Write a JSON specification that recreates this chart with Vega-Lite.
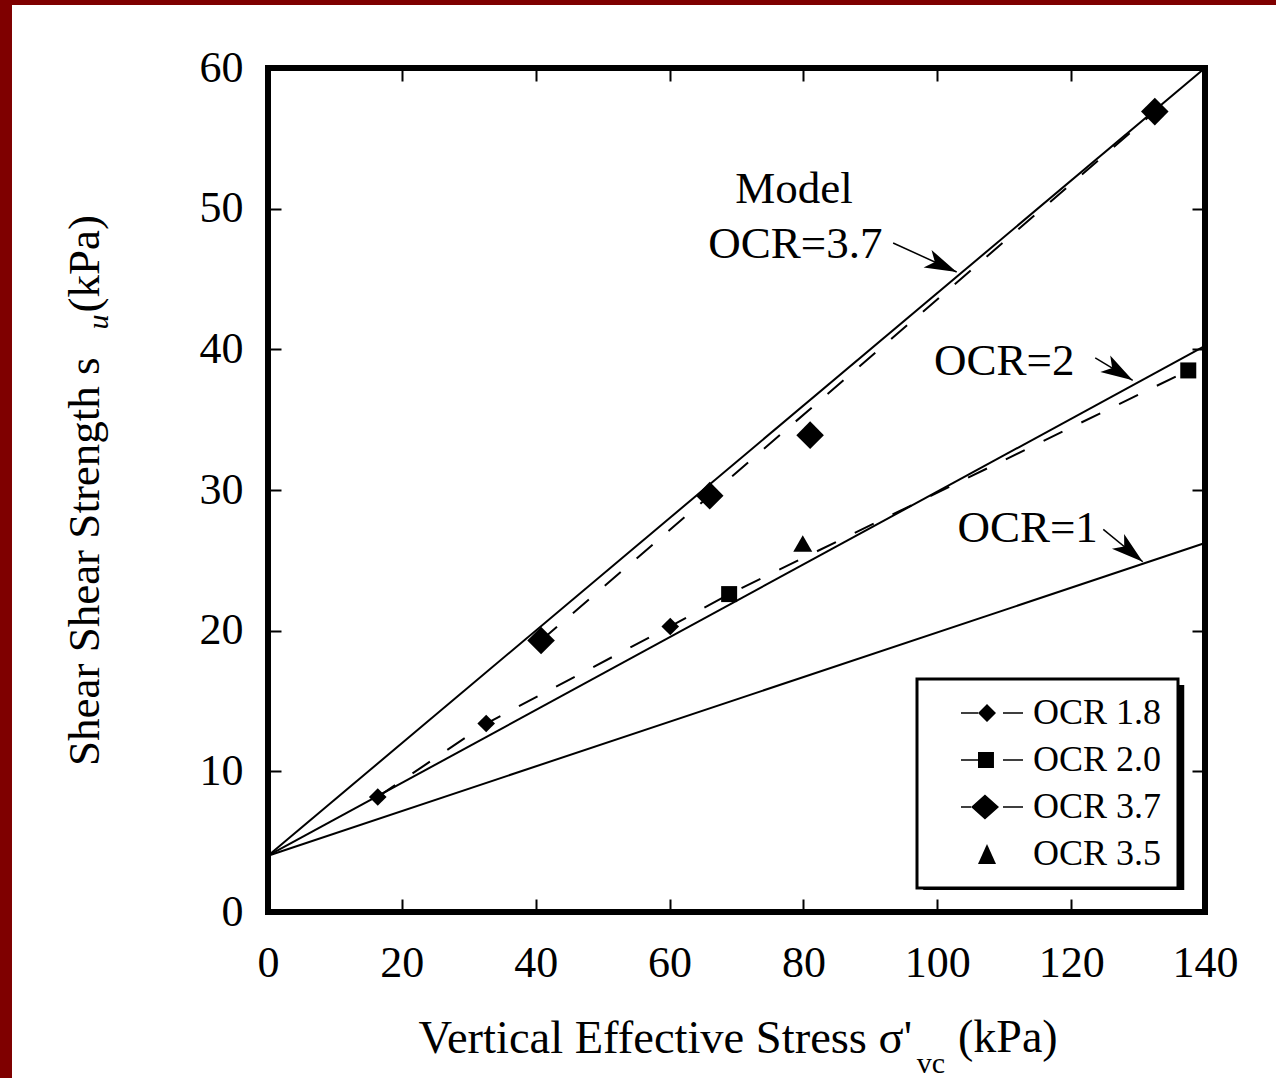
{
  "$schema": "https://vega.github.io/schema/vega-lite/v6.json",
  "width": 937,
  "height": 844,
  "autosize": {"type": "none"},
  "padding": {"left": 268, "top": 68, "right": 71, "bottom": 166},
  "background": "white",
  "config": {
    "view": {"stroke": "black", "strokeWidth": 6},
    "font": "Liberation Serif",
    "axis": {
      "grid": false, "domain": false, "tickColor": "black", "tickWidth": 2, "tickSize": -13,
      "labelColor": "black", "labelFont": "Liberation Serif", "labelFontSize": 44, "labelFlush": false, "labelOverlap": false,
      "titleFont": "Liberation Serif", "titleFontSize": 45, "titleFontWeight": "normal", "titleColor": "black", "zindex": 1
    },
    "legend": {"strokeWidth": 3}
  },
  "datasets": {
    "points": [
      {"series": "OCR 1.8", "x": 16.4, "y": 8.18},
      {"series": "OCR 1.8", "x": 32.6, "y": 13.4},
      {"series": "OCR 1.8", "x": 60.1, "y": 20.3},
      {"series": "OCR 2.0", "x": 68.9, "y": 22.6},
      {"series": "OCR 2.0", "x": 137.5, "y": 38.5},
      {"series": "OCR 3.7", "x": 40.8, "y": 19.3},
      {"series": "OCR 3.7", "x": 66.0, "y": 29.6},
      {"series": "OCR 3.7", "x": 81.0, "y": 33.9},
      {"series": "OCR 3.7", "x": 132.5, "y": 56.9},
      {"series": "OCR 3.5", "x": 79.9, "y": 26.2}
    ],
    "model": [
      {"ocr": "1", "x": 0, "y": 4},
      {"ocr": "1", "x": 140, "y": 26.23},
      {"ocr": "2", "x": 0, "y": 4},
      {"ocr": "2", "x": 140, "y": 40.24},
      {"ocr": "3.7", "x": 0, "y": 4},
      {"ocr": "3.7", "x": 140, "y": 60}
    ],
    "dashed": [
      {"grp": "lower", "x": 16.4, "y": 8.18},
      {"grp": "lower", "x": 32.6, "y": 13.4},
      {"grp": "lower", "x": 60.1, "y": 20.3},
      {"grp": "lower", "x": 68.9, "y": 22.6},
      {"grp": "lower", "x": 137.5, "y": 38.5},
      {"grp": "upper", "x": 40.8, "y": 19.3},
      {"grp": "upper", "x": 66.0, "y": 29.6},
      {"grp": "upper", "x": 132.5, "y": 56.9}
    ],
    "notes": [
      {"label": "Model", "x": 78.6, "y": 50.4},
      {"label": "OCR=3.7", "x": 78.8, "y": 46.49},
      {"label": "OCR=2", "x": 110.0, "y": 38.17},
      {"label": "OCR=1", "x": 113.5, "y": 26.3}
    ],
    "arrows": [
      {"id": "a37", "x": 93.4, "y": 47.56, "x2": 102.9, "y2": 45.5},
      {"id": "a2", "x": 123.6, "y": 39.4, "x2": 129.2, "y2": 37.8},
      {"id": "a1", "x": 124.8, "y": 27.2, "x2": 130.7, "y2": 24.9}
    ]
  },
  "layer": [
    {
      "data": {"values": [{}]},
      "mark": {"type": "rect", "color": "#7f0000"},
      "encoding": {
        "x": {"datum": -70, "type": "quantitative", "scale": {"domain": [0, 140], "nice": false}, "axis": null},
        "x2": {"datum": -38.25},
        "y": {"datum": -20, "type": "quantitative", "scale": {"domain": [0, 60], "nice": false}, "axis": null},
        "y2": {"datum": 70}
      }
    },
    {
      "data": {"values": [{}]},
      "mark": {"type": "rect", "color": "#7f0000"},
      "encoding": {
        "x": {"datum": -70, "type": "quantitative", "scale": {"domain": [0, 140], "nice": false}, "axis": null},
        "x2": {"datum": 170},
        "y": {"datum": 64.48, "type": "quantitative", "scale": {"domain": [0, 60], "nice": false}, "axis": null},
        "y2": {"datum": 70}
      }
    },
    {
      "data": {"values": [{}]},
      "mark": {"type": "rect", "color": "black"},
      "encoding": {
        "x": {"datum": 97.9, "type": "quantitative", "scale": {"domain": [0, 140], "nice": false}, "axis": null},
        "x2": {"datum": 136.9},
        "y": {"datum": 1.56, "type": "quantitative", "scale": {"domain": [0, 60], "nice": false}, "axis": null},
        "y2": {"datum": 16.14}
      }
    },
    {
      "data": {"name": "model"},
      "mark": {"type": "line", "color": "black", "strokeWidth": 2},
      "encoding": {
        "x": {"field": "x", "type": "quantitative", "scale": {"domain": [0, 140], "nice": false},
          "axis": {"orient": "bottom", "values": [0, 20, 40, 60, 80, 100, 120, 140], "labelPadding": 42,
            "title": "Vertical Effective Stress σ'", "titleFontSize": 46.5, "titleAnchor": "start", "titleAlign": "left", "titleBaseline": "alphabetic", "titleX": 150, "titleY": 140}},
        "y": {"field": "y", "type": "quantitative", "scale": {"domain": [0, 60], "nice": false},
          "axis": {"orient": "left", "values": [0, 10, 20, 30, 40, 50, 60], "labelPadding": 38,
            "title": "Shear Shear Strength s\u2002\u2002(kPa)", "titlePadding": 92}},
        "detail": {"field": "ocr", "type": "nominal"}
      }
    },
    {
      "data": {"name": "dashed"},
      "mark": {"type": "line", "color": "black", "strokeWidth": 2, "strokeDash": [21, 21]},
      "encoding": {
        "x": {"field": "x", "type": "quantitative", "scale": {"domain": [0, 140], "nice": false},
          "axis": {"orient": "top", "values": [0, 20, 40, 60, 80, 100, 120, 140], "labels": false, "title": null}},
        "y": {"field": "y", "type": "quantitative", "scale": {"domain": [0, 60], "nice": false},
          "axis": {"orient": "right", "values": [0, 10, 20, 30, 40, 50, 60], "labels": false, "title": null}},
        "detail": {"field": "grp", "type": "nominal"}
      }
    },
    {
      "data": {"name": "points"},
      "transform": [{"filter": "datum.series === 'OCR 1.8'"}],
      "mark": {"type": "point", "shape": "diamond", "size": 310, "filled": true, "color": "black", "opacity": 1},
      "encoding": {
        "x": {"field": "x", "type": "quantitative", "scale": {"domain": [0, 140], "nice": false}, "axis": null},
        "y": {"field": "y", "type": "quantitative", "scale": {"domain": [0, 60], "nice": false}, "axis": null}
      }
    },
    {
      "data": {"name": "points"},
      "transform": [{"filter": "datum.series === 'OCR 2.0'"}],
      "mark": {"type": "point", "shape": "square", "size": 256, "filled": true, "color": "black", "opacity": 1},
      "encoding": {
        "x": {"field": "x", "type": "quantitative", "scale": {"domain": [0, 140], "nice": false}, "axis": null},
        "y": {"field": "y", "type": "quantitative", "scale": {"domain": [0, 60], "nice": false}, "axis": null}
      }
    },
    {
      "data": {"name": "points"},
      "transform": [{"filter": "datum.series === 'OCR 3.7'"}],
      "mark": {"type": "point", "shape": "diamond", "size": 760, "filled": true, "color": "black", "opacity": 1},
      "encoding": {
        "x": {"field": "x", "type": "quantitative", "scale": {"domain": [0, 140], "nice": false}, "axis": null},
        "y": {"field": "y", "type": "quantitative", "scale": {"domain": [0, 60], "nice": false}, "axis": null}
      }
    },
    {
      "data": {"name": "points"},
      "transform": [{"filter": "datum.series === 'OCR 3.5'"}],
      "mark": {"type": "point", "shape": "triangle-up", "size": 360, "filled": true, "color": "black", "opacity": 1},
      "encoding": {
        "x": {"field": "x", "type": "quantitative", "scale": {"domain": [0, 140], "nice": false}, "axis": null},
        "y": {"field": "y", "type": "quantitative", "scale": {"domain": [0, 60], "nice": false}, "axis": null}
      }
    },
    {
      "data": {"name": "points"},
      "mark": {"type": "point", "filled": true, "color": "black", "opacity": 0},
      "encoding": {
        "x": {"field": "x", "type": "quantitative", "scale": {"domain": [0, 140], "nice": false}, "axis": null},
        "y": {"field": "y", "type": "quantitative", "scale": {"domain": [0, 60], "nice": false}, "axis": null},
        "shape": {
          "field": "series", "type": "nominal",
          "scale": {
            "domain": ["OCR 1.8", "OCR 2.0", "OCR 3.7", "OCR 3.5"],
            "range": [
              "M0.83,-0.07H2.25V0.07H0.83Z M3,-0.75L3.75,0L3,0.75L2.25,0Z M4.33,-0.07H6V0.07H4.33Z",
              "M0.83,-0.07H2.25V0.07H0.83Z M2.25,-0.67H3.58V0.67H2.25Z M4.33,-0.07H6V0.07H4.33Z",
              "M0.83,-0.07H1.67V0.07H0.83Z M2.83,-1.04L4,0L2.83,1.04L1.67,0Z M4.33,-0.07H6V0.07H4.33Z",
              "M3,-0.83L3.75,0.83L2.25,0.83Z"
            ]
          },
          "legend": {
            "orient": "none", "legendX": 649, "legendY": 611, "title": null,
            "padding": 16, "fillColor": "white", "strokeColor": "black",
            "symbolSize": 576, "symbolStrokeWidth": 0, "symbolFillColor": "black", "symbolStrokeColor": "black", "symbolOpacity": 1,
            "labelFont": "Liberation Serif", "labelFontSize": 36, "labelColor": "black", "labelOffset": 64, "labelLimit": 300,
            "rowPadding": 11,
            "encode": {
              "symbols": {"update": {"fill": {"value": "black"}, "opacity": {"value": 1}}}
            }
          }
        }
      }
    },
    {
      "data": {"name": "notes"},
      "mark": {"type": "text", "font": "Liberation Serif", "fontSize": 45, "align": "center", "baseline": "alphabetic", "color": "black"},
      "encoding": {
        "x": {"field": "x", "type": "quantitative", "scale": {"domain": [0, 140], "nice": false}, "axis": null},
        "y": {"field": "y", "type": "quantitative", "scale": {"domain": [0, 60], "nice": false}, "axis": null},
        "text": {"field": "label"}
      }
    },
    {
      "data": {"name": "arrows"},
      "mark": {"type": "rule", "color": "black", "strokeWidth": 1.5},
      "encoding": {
        "x": {"field": "x", "type": "quantitative", "scale": {"domain": [0, 140], "nice": false}, "axis": null},
        "y": {"field": "y", "type": "quantitative", "scale": {"domain": [0, 60], "nice": false}, "axis": null},
        "x2": {"field": "x2"},
        "y2": {"field": "y2"}
      }
    },
    {
      "data": {"name": "arrows"},
      "transform": [{"filter": "datum.id === 'a37'"}],
      "mark": {"type": "point", "shape": "M0,0L-1,-0.3L-0.75,0L-1,0.3Z", "size": 4096, "filled": true, "color": "black", "opacity": 1, "angle": 24.5},
      "encoding": {
        "x": {"field": "x2", "type": "quantitative", "scale": {"domain": [0, 140], "nice": false}, "axis": null},
        "y": {"field": "y2", "type": "quantitative", "scale": {"domain": [0, 60], "nice": false}, "axis": null}
      }
    },
    {
      "data": {"name": "arrows"},
      "transform": [{"filter": "datum.id === 'a2'"}],
      "mark": {"type": "point", "shape": "M0,0L-1,-0.3L-0.75,0L-1,0.3Z", "size": 4096, "filled": true, "color": "black", "opacity": 1, "angle": 31},
      "encoding": {
        "x": {"field": "x2", "type": "quantitative", "scale": {"domain": [0, 140], "nice": false}, "axis": null},
        "y": {"field": "y2", "type": "quantitative", "scale": {"domain": [0, 60], "nice": false}, "axis": null}
      }
    },
    {
      "data": {"name": "arrows"},
      "transform": [{"filter": "datum.id === 'a1'"}],
      "mark": {"type": "point", "shape": "M0,0L-1,-0.3L-0.75,0L-1,0.3Z", "size": 4096, "filled": true, "color": "black", "opacity": 1, "angle": 39.4},
      "encoding": {
        "x": {"field": "x2", "type": "quantitative", "scale": {"domain": [0, 140], "nice": false}, "axis": null},
        "y": {"field": "y2", "type": "quantitative", "scale": {"domain": [0, 60], "nice": false}, "axis": null}
      }
    },
    {
      "data": {"values": [{}]},
      "mark": {"type": "text", "text": "vc", "font": "Liberation Serif", "fontSize": 30, "align": "center", "baseline": "middle", "color": "black"},
      "encoding": {
        "x": {"datum": 99.06, "type": "quantitative", "scale": {"domain": [0, 140], "nice": false}, "axis": null},
        "y": {"datum": -10.84, "type": "quantitative", "scale": {"domain": [0, 60], "nice": false}, "axis": null}
      }
    },
    {
      "data": {"values": [{}]},
      "mark": {"type": "text", "text": "(kPa)", "font": "Liberation Serif", "fontSize": 46, "align": "left", "baseline": "alphabetic", "color": "black"},
      "encoding": {
        "x": {"datum": 103.1, "type": "quantitative", "scale": {"domain": [0, 140], "nice": false}, "axis": null},
        "y": {"datum": -9.95, "type": "quantitative", "scale": {"domain": [0, 60], "nice": false}, "axis": null}
      }
    },
    {
      "data": {"values": [{}]},
      "mark": {"type": "text", "text": "u", "font": "Liberation Serif", "fontSize": 30, "fontStyle": "italic", "angle": 270, "align": "center", "baseline": "middle", "color": "black"},
      "encoding": {
        "x": {"datum": -25.25, "type": "quantitative", "scale": {"domain": [0, 140], "nice": false}, "axis": null},
        "y": {"datum": 41.94, "type": "quantitative", "scale": {"domain": [0, 60], "nice": false}, "axis": null}
      }
    }
  ],
  "resolve": {"axis": {"x": "independent", "y": "independent"}}
}
